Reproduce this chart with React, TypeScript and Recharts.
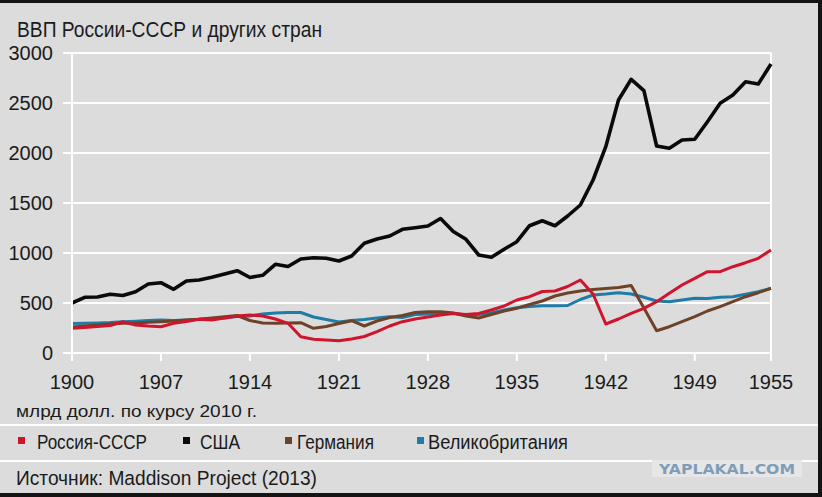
import React from 'react';
import { LineChart, Line, XAxis, YAxis, CartesianGrid, ReferenceLine } from 'recharts';

const years = [
  1900, 1901, 1902, 1903, 1904, 1905, 1906, 1907, 1908, 1909,
  1910, 1911, 1912, 1913, 1914, 1915, 1916, 1917, 1918, 1919,
  1920, 1921, 1922, 1923, 1924, 1925, 1926, 1927, 1928, 1929,
  1930, 1931, 1932, 1933, 1934, 1935, 1936, 1937, 1938, 1939,
  1940, 1941, 1942, 1943, 1944, 1945, 1946, 1947, 1948, 1949,
  1950, 1951, 1952, 1953, 1954, 1955,
];

const usa = [
  500, 557, 560, 587, 575, 613, 690, 703, 637, 720,
  730, 757, 790, 823, 755, 777, 887, 865, 940, 953,
  947, 920, 970, 1097, 1140, 1170, 1237, 1253, 1270, 1345,
  1215, 1137, 980, 957, 1037, 1113, 1273, 1323, 1273, 1370,
  1480, 1730, 2063, 2530, 2737, 2623, 2070, 2047, 2130, 2137,
  2313, 2497, 2580, 2713, 2690, 2890,
];

const russia = [
  247, 255, 265, 275, 313, 280, 270, 263, 297, 315,
  337, 330, 350, 370, 380, 370, 340, 297, 163, 137,
  130, 122, 140, 165, 213, 270, 313, 340, 360, 380,
  395, 385, 395, 430, 470, 530, 563, 615, 620, 665,
  730, 590, 290, 340, 397, 447, 513, 597, 680, 747,
  813, 813, 863, 903, 947, 1030,
];

const germany = [
  260, 270, 280, 290, 297, 300, 308, 313, 320, 330,
  337, 350, 362, 375, 325, 300, 297, 300, 303, 247,
  265, 295, 323, 270, 320, 355, 375, 405, 413, 413,
  400, 370, 350, 385, 420, 447, 485, 520, 570, 600,
  620, 635, 645, 655, 675, 450, 223, 263, 313, 363,
  420, 463, 513, 563, 603, 647,
];

const uk = [
  295, 297, 300, 305, 313, 318, 325, 330, 325, 330,
  337, 345, 350, 365, 370, 390, 400, 405, 405, 360,
  335, 310, 325, 335, 350, 363, 355, 385, 390, 400,
  398, 380, 385, 400, 430, 453, 465, 473, 473, 475,
  535, 580, 590, 603, 590, 557, 520, 513, 530, 547,
  545, 557, 563, 587, 613, 647,
];

const xTicks = [1900, 1907, 1914, 1921, 1928, 1935, 1942, 1949, 1955];
const yTicks = [0, 500, 1000, 1500, 2000, 2500, 3000];

const seriesKeys = ['uk', 'germany', 'russia', 'usa'];
const seriesNames = ['Великобритания', 'Германия', 'Россия-СССР', 'США'];
const seriesColors = ['#1e7ca6', '#6e4228', '#d0142c', '#0a0a0a'];
const seriesWidths = [3, 3, 3, 3.6];

const legendOrder = ['russia', 'usa', 'germany', 'uk'];
const legendSquareX = [18, 183, 285, 417];
const legendTextX = [37, 200, 297, 428];
const legendTextLen = [110, 40, 77, 140];

const title = 'ВВП России-СССР и других стран';
const subtitle = 'млрд долл. по курсу 2010 г.';
const source = 'Источник: Maddison Project (2013)';

const rows = years.map((year, i) => ({
  year,
  usa: usa[i],
  russia: russia[i],
  germany: germany[i],
  uk: uk[i],
}));

const FONT = '"Liberation Sans", Arial, sans-serif';

export default function App() {
  return (
    <div style={{ position: 'absolute', left: 0, top: 0, width: 822, height: 497, background: '#141414', overflow: 'hidden' }}>
      <div style={{ position: 'absolute', left: 0, top: 3, width: 818, height: 490, background: '#dcdcdc' }} />
      <svg width={822} height={497} style={{ position: 'absolute', left: 0, top: 0 }} fontFamily={FONT}>
        <text x={17} y={36.5} fontSize={22} fill="#1b1b1b" textLength={305} lengthAdjust="spacingAndGlyphs">{title}</text>
        <text x={16} y={416.5} fontSize={16.5} fill="#1b1b1b" textLength={241} lengthAdjust="spacingAndGlyphs">{subtitle}</text>
        <rect x={0} y={424} width={818} height={2} fill="#ffffff" />
        <rect x={0} y={460} width={818} height={2} fill="#ffffff" />
        {legendOrder.map((key, i) => {
          const idx = seriesKeys.indexOf(key);
          return (
            <g key={key}>
              <rect x={legendSquareX[i]} y={437} width={7} height={7} fill={seriesColors[idx]} />
              <text x={legendTextX[i]} y={449} fontSize={19.5} fill="#1b1b1b" textLength={legendTextLen[i]} lengthAdjust="spacingAndGlyphs">{seriesNames[idx]}</text>
            </g>
          );
        })}
        <text x={16} y={485} fontSize={20.5} fill="#1b1b1b" textLength={301} lengthAdjust="spacingAndGlyphs">{source}</text>
        <rect x={652} y={460} width={150} height={17} fill="#e6e6e6" />
        <text x={727} y={474} fontSize={14} fontWeight="bold" fill="#7f9cb8" textAnchor="middle" fontFamily="DejaVu Sans" textLength={136} lengthAdjust="spacingAndGlyphs">YAPLAKAL.COM</text>
      </svg>
      <div style={{ position: 'absolute', left: 0, top: 0 }}>
        <LineChart width={822} height={497} data={rows} margin={{ top: 53, right: 51, bottom: 104, left: 0 }}>
          <CartesianGrid horizontal={true} vertical={false} stroke="#ffffff" strokeWidth={2} />
          <XAxis
            dataKey="year"
            type="number"
            domain={[1900, 1955]}
            ticks={xTicks}
            interval={0}
            height={40}
            tickSize={8}
            tickMargin={14}
            axisLine={{ stroke: '#ffffff', strokeWidth: 2 }}
            tickLine={{ stroke: '#ffffff', strokeWidth: 2 }}
            tick={{ fill: '#1b1b1b', fontSize: 20, fontFamily: FONT }}
          />
          <YAxis
            type="number"
            domain={[0, 3000]}
            ticks={yTicks}
            interval={0}
            width={72}
            tickSize={9}
            tickMargin={10}
            axisLine={{ stroke: '#ffffff', strokeWidth: 2 }}
            tickLine={{ stroke: '#ffffff', strokeWidth: 2 }}
            tick={{ fill: '#1b1b1b', fontSize: 20, fontFamily: FONT }}
          />
          <ReferenceLine x={1955} stroke="#ffffff" strokeWidth={2} />
          {seriesKeys.map((key, i) => (
            <Line
              key={key}
              type="linear"
              dataKey={key}
              name={seriesNames[i]}
              stroke={seriesColors[i]}
              strokeWidth={seriesWidths[i]}
              dot={false}
              activeDot={false}
              isAnimationActive={false}
              strokeLinejoin="round"
            />
          ))}
        </LineChart>
      </div>
    </div>
  );
}
